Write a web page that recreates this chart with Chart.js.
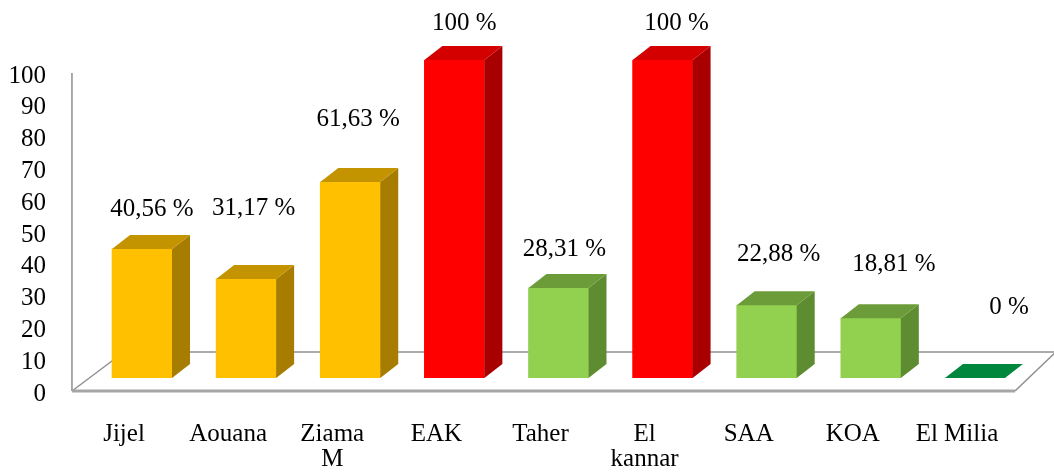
<!DOCTYPE html>
<html><head><meta charset="utf-8">
<script src="https://cdn.jsdelivr.net/npm/chart.js@4"></script>
<style>html,body{margin:0;padding:0;background:#fff;}canvas{display:block;}</style>
</head><body>
<canvas id="c" width="1054" height="472"></canvas>
<script>
const categories = ['Jijel', 'Aouana', ['Ziama', 'M'], 'EAK', 'Taher', ['El', 'kannar'], 'SAA', 'KOA', 'El Milia'];
const values = [40.56, 31.17, 61.63, 100, 28.31, 100, 22.88, 18.81, 0];
const yTicks = [0, 10, 20, 30, 40, 50, 60, 70, 80, 90, 100];

const frontColors = ['#FFC000', '#FFC000', '#FFC000', '#FF0000', '#92D050', '#FF0000', '#92D050', '#92D050', '#00873E'];
const sideColors  = ['#A67D00', '#A67D00', '#A67D00', '#A80000', '#5E8C30', '#A80000', '#5E8C30', '#5E8C30', '#006B30'];
const topColors   = ['#C49400', '#C49400', '#C49400', '#D40000', '#6C9C3A', '#D40000', '#6C9C3A', '#6C9C3A', '#00873E'];
// manual nudges (px) of the value labels, as placed in the original
const labelNudge = [[6, -2], [3.5, -32], [4, -25], [6, 1], [2, -1], [10, 1], [8, -13], [19, -16], [30, -33]];

const FONT = '"Liberation Serif", "Times New Roman", serif';
const DEPTH = { dx: 18, dy: -14 };

function poly(ctx, pts, fill) {
  ctx.beginPath();
  ctx.moveTo(pts[0][0], pts[0][1]);
  for (let i = 1; i < pts.length; i++) ctx.lineTo(pts[i][0], pts[i][1]);
  ctx.closePath();
  ctx.fillStyle = fill;
  ctx.fill();
}
function seg(ctx, x1, y1, x2, y2) {
  ctx.beginPath(); ctx.moveTo(x1, y1); ctx.lineTo(x2, y2); ctx.stroke();
}

const floorPlugin = {
  id: 'floor3d',
  beforeDatasetsDraw(chart) {
    const { ctx, chartArea: a, scales: { y } } = chart;
    const y0 = y.getPixelForValue(0);
    const fy = y0 + 13, by = y0 - 26;
    const lx = a.left - 18, rx = a.right - 12;
    ctx.save();
    ctx.lineCap = 'butt';
    ctx.strokeStyle = '#8f8f8f'; ctx.lineWidth = 1.5;
    seg(ctx, lx + 52, by, rx + 46, by);
    seg(ctx, lx, fy, lx + 52, by);
    seg(ctx, rx, fy, rx + 46, fy - 44);
    seg(ctx, lx, y.getPixelForValue(100) + 13, lx, fy);
    ctx.strokeStyle = '#a6a6a6'; ctx.lineWidth = 3;
    seg(ctx, lx, fy, rx, fy);
    ctx.restore();
  }
};

const barsPlugin = {
  id: 'bars3d',
  afterDatasetsDraw(chart) {
    const { ctx } = chart;
    const meta = chart.getDatasetMeta(0);
    ctx.save();
    meta.data.forEach((bar, i) => {
      const p = bar.getProps(['x', 'y', 'base', 'width'], true);
      const l = p.x - p.width / 2, r = p.x + p.width / 2;
      const { dx, dy } = DEPTH;
      if (p.base - p.y > 0.5) {
        poly(ctx, [[r, p.y], [r + dx, p.y + dy], [r + dx, p.base + dy], [r, p.base]], sideColors[i]);
      }
      poly(ctx, [[l, p.y], [l + dx, p.y + dy], [r + dx, p.y + dy], [r, p.y]], topColors[i]);
      const txt = String(values[i]).replace('.', ',') + ' %';
      ctx.fillStyle = '#000';
      ctx.font = '25px ' + FONT;
      ctx.textAlign = 'center';
      ctx.textBaseline = 'middle';
      ctx.fillText(txt, p.x + 4 + labelNudge[i][0], p.y + dy - 24 + labelNudge[i][1]);
    });
    ctx.restore();
  }
};

new Chart(document.getElementById('c'), {
  type: 'bar',
  data: {
    labels: categories,
    datasets: [{
      data: values,
      backgroundColor: frontColors,
      borderWidth: 0,
      barThickness: 60
    }]
  },
  options: {
    responsive: false,
    animation: false,
    devicePixelRatio: 1,
    layout: { padding: { top: 60, right: 27, left: 0, bottom: 0 } },
    plugins: { legend: { display: false }, tooltip: { enabled: false } },
    scales: {
      x: {
        grid: { display: false },
        border: { display: false },
        ticks: {
          padding: 36, labelOffset: -18, color: '#000',
          maxRotation: 0, autoSkip: false,
          font: { family: FONT, size: 25, lineHeight: 1 }
        },
        afterFit: s => { s.height = 94; }
      },
      y: {
        min: 0, max: 100,
        grid: { display: false },
        border: { display: false },
        afterBuildTicks: s => { s.ticks = yTicks.map(v => ({ value: v })); },
        ticks: {
          padding: 36, labelOffset: 16, color: '#000', autoSkip: false,
          font: { family: FONT, size: 25 }
        },
        afterFit: s => { s.width = 89.95; }
      }
    }
  },
  plugins: [floorPlugin, barsPlugin]
});
</script>
</body></html>
